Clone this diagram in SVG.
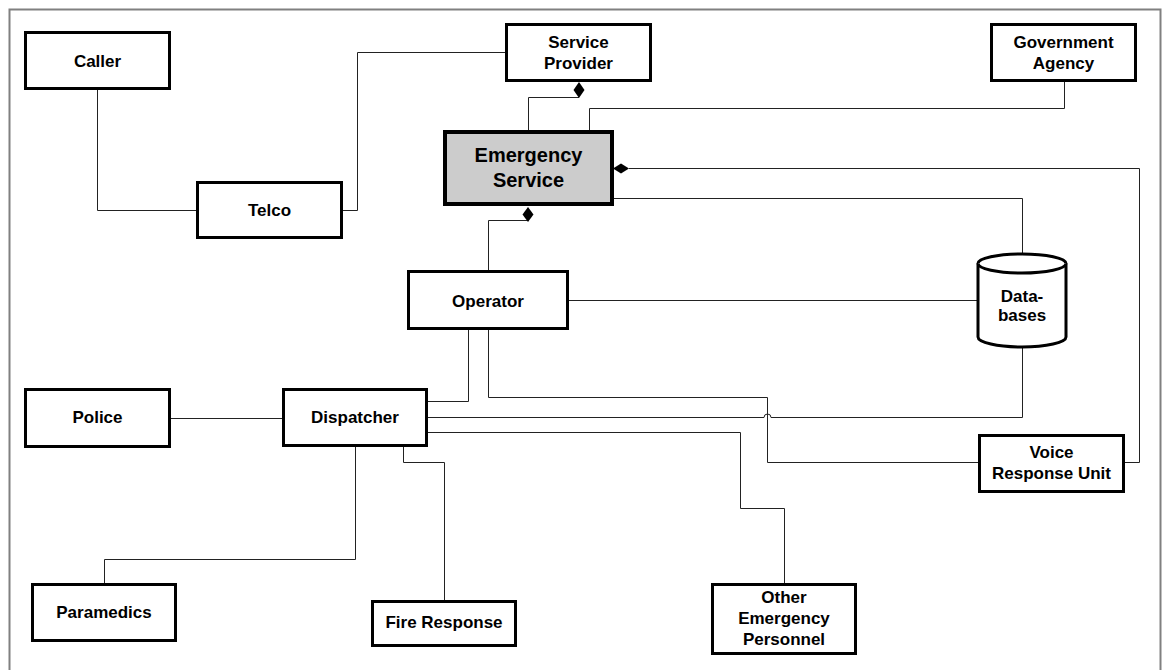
<svg xmlns="http://www.w3.org/2000/svg" width="1165" height="670" viewBox="0 0 1165 670">
  <style>
    .frame { fill: none; stroke: #808080; stroke-width: 2; }
    .box { fill: #ffffff; stroke: #000000; stroke-width: 3; }
    .core { fill: #cccccc; stroke: #000000; stroke-width: 4; }
    .wire { fill: none; stroke: #222222; stroke-width: 1; }
    .dia { fill: #000000; stroke: none; }
    .lbl { font-family: "Liberation Sans", Arial, Helvetica, sans-serif; font-weight: bold; font-size: 17px; fill: #000000; text-anchor: middle; }
    .big { font-size: 20px; }
  </style>

  <rect x="0" y="0" width="1165" height="670" fill="#ffffff"/>
  <rect class="frame" x="9.5" y="9.5" width="1151" height="690"/>

  <!-- connectors -->
  <g id="connectors">
    <path class="wire" d="M97.5,90 V210.5 H196"/>
    <path class="wire" d="M343,210.5 H357.5 V52.5 H505"/>
    <path class="wire" d="M528.5,131 V97.5 H579"/>
    <path class="wire" d="M589.5,131 V108.5 H1064.5 V82"/>
    <path class="wire" d="M629,168.5 H1139.5 V462.5 H1125"/>
    <path class="wire" d="M613,198.5 H1022.5 V254"/>
    <path class="wire" d="M528,220.5 H488.5 V270"/>
    <path class="wire" d="M569,300.5 H978"/>
    <path class="wire" d="M1022.5,346 V417.5 H771 A3.5,3.5 0 0 0 764,417.5 H428"/>
    <path class="wire" d="M468.5,330 V401.5 H428"/>
    <path class="wire" d="M488.5,330 V397.5 H767.5 V462.5 H978"/>
    <path class="wire" d="M428,432.5 H740.5 V508.5 H784.5 V583"/>
    <path class="wire" d="M171,418.5 H282"/>
    <path class="wire" d="M355.5,447 V559.5 H104.5 V583"/>
    <path class="wire" d="M403.5,447 V462.5 H444.5 V600"/>
    <!-- aggregation diamonds -->
    <path class="dia" d="M579,82 L584.5,90 L579,98 L573.5,90 Z"/>
    <path class="dia" d="M613,168.5 L621,163.5 L629,168.5 L621,173.5 Z"/>
    <path class="dia" d="M528,207 L533.5,214.5 L528,222 L522.5,214.5 Z"/>
  </g>

  <g id="caller">
    <rect class="box" x="25.5" y="32.5" width="144" height="56"/>
    <text class="lbl" x="97.5" y="67">Caller</text>
  </g>
  <g id="telco">
    <rect class="box" x="197.5" y="182.5" width="144" height="55"/>
    <text class="lbl" x="269.5" y="216">Telco</text>
  </g>
  <g id="service-provider">
    <rect class="box" x="506.5" y="24.5" width="144" height="56"/>
    <text class="lbl" x="578.5" y="48">Service</text>
    <text class="lbl" x="578.5" y="69">Provider</text>
  </g>
  <g id="government-agency">
    <rect class="box" x="991.5" y="24.5" width="144" height="56"/>
    <text class="lbl" x="1063.5" y="48">Government</text>
    <text class="lbl" x="1063.5" y="69">Agency</text>
  </g>
  <g id="emergency-service">
    <rect class="core" x="445" y="132" width="167" height="72"/>
    <text class="lbl big" x="528.5" y="162">Emergency</text>
    <text class="lbl big" x="528.5" y="187">Service</text>
  </g>
  <g id="operator">
    <rect class="box" x="408.5" y="271.5" width="159" height="57"/>
    <text class="lbl" x="488" y="307">Operator</text>
  </g>
  <g id="databases">
    <path class="box" d="M978,263.5 A44,9.5 0 0 1 1066,263.5 V337 A44,10 0 0 1 978,337 Z"/>
    <path class="box" fill="none" d="M978,263.5 A44,9.5 0 0 0 1066,263.5"/>
    <text class="lbl" x="1022" y="302">Data-</text>
    <text class="lbl" x="1022" y="321">bases</text>
  </g>
  <g id="police">
    <rect class="box" x="25.5" y="389.5" width="144" height="57"/>
    <text class="lbl" x="97.5" y="423">Police</text>
  </g>
  <g id="dispatcher">
    <rect class="box" x="283.5" y="389.5" width="143" height="56"/>
    <text class="lbl" x="355" y="423">Dispatcher</text>
  </g>
  <g id="voice-response-unit">
    <rect class="box" x="979.5" y="435.5" width="144" height="56"/>
    <text class="lbl" x="1051.5" y="458">Voice</text>
    <text class="lbl" x="1051.5" y="479">Response Unit</text>
  </g>
  <g id="paramedics">
    <rect class="box" x="32.5" y="584.5" width="143" height="56"/>
    <text class="lbl" x="104" y="618">Paramedics</text>
  </g>
  <g id="fire-response">
    <rect class="box" x="372.5" y="601.5" width="143" height="44"/>
    <text class="lbl" x="444" y="628">Fire Response</text>
  </g>
  <g id="other-emergency-personnel">
    <rect class="box" x="712.5" y="584.5" width="143" height="69"/>
    <text class="lbl" x="784" y="603">Other</text>
    <text class="lbl" x="784" y="624">Emergency</text>
    <text class="lbl" x="784" y="645">Personnel</text>
  </g>
</svg>
